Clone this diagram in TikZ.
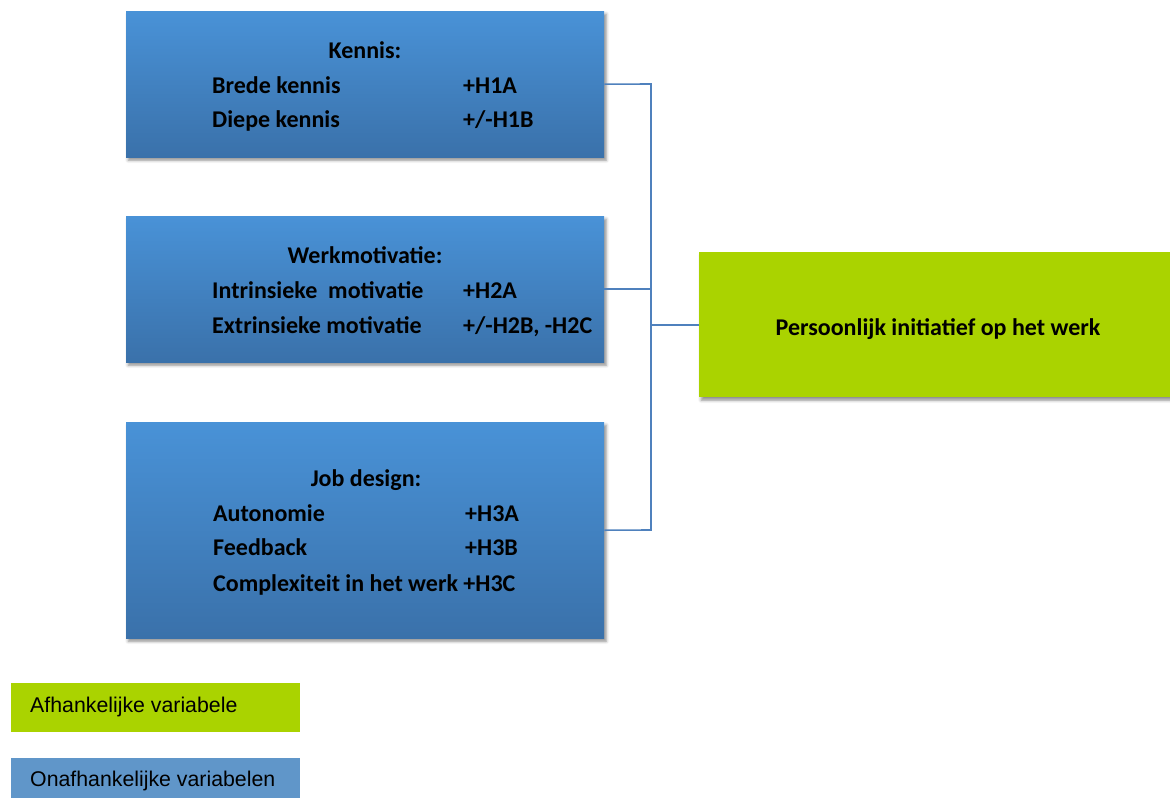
\documentclass[tikz,border=0pt]{standalone}
\usepackage{fontspec}
\setmainfont{Carlito}
\newfontfamily\arialfont{Liberation Sans}
\usetikzlibrary{shadows.blur}
\definecolor{blueTop}{RGB}{73,146,215}
\definecolor{blueBot}{RGB}{58,113,170}
\definecolor{limeG}{RGB}{170,211,0}
\definecolor{legBlue}{RGB}{96,150,201}
\definecolor{connC}{RGB}{79,129,189}
\tikzset{
  bluebox/.style={anchor=north west, inner sep=0pt, minimum width=478pt,
    top color=blueTop, bottom color=blueBot, draw=none,
    blur shadow={shadow xshift=2pt, shadow yshift=-3pt, shadow blur radius=3pt, shadow opacity=45}},
  greenbox/.style={anchor=north west, inner sep=0pt, minimum width=471pt, minimum height=145pt,
    fill=limeG, draw=none,
    blur shadow={shadow xshift=2pt, shadow yshift=-3pt, shadow blur radius=3pt, shadow opacity=45}},
  btxt/.style={anchor=base west, inner sep=0pt, font=\fontsize{24}{28}\selectfont\bfseries},
  ctxt/.style={anchor=base, inner sep=0pt, font=\fontsize{24}{28}\selectfont\bfseries},
  legbox/.style={anchor=north west, inner sep=0pt, minimum width=289pt},
  legtxt/.style={anchor=west, inner sep=0pt, font=\arialfont\fontsize{21.3}{25}\selectfont},
  conn/.style={draw=connC, line width=1.6pt}
}
\begin{document}
\begin{tikzpicture}[x=1pt,y=-1pt]
\useasboundingbox (0,0) rectangle (1170,798);
% boxes
\node[bluebox, minimum height=146pt] (k) at (126,11) {};
\node[bluebox, minimum height=146pt] (w) at (126,216) {};
\node[bluebox, minimum height=216pt] (j) at (126,422) {};
\node[greenbox] (p) at (699,252) {};
% connectors
\coordinate (bt) at (651,84);
\coordinate (bb) at (651,530);
\draw[conn] (k.east) -- (bt) -- (bb) -- (j.east);
\draw[conn] (w.east) -- (w.east -| bt);
\draw[conn] (p.west -| bt) -- (p.west);
% texts box 1
\node[ctxt] (k0) at (365,58) {Kennis:};
\node[btxt] (k1) at (212,93) {Brede kennis};
\node[btxt] (k1h) at (463,93) {+H1A};
\node[btxt] (k2) at (212,127) {Diepe kennis};
\node[btxt] (k2h) at (463,127) {+/-H1B};
% texts box 2
\node[ctxt] (w0) at (365,263) {Werkmotivatie:};
\node[btxt] (w1) at (212,298) {Intrinsieke\ \ motivatie};
\node[btxt] (w1h) at (463,298) {+H2A};
\node[btxt] (w2) at (212,333) {Extrinsieke motivatie};
\node[btxt] (w2h) at (463,333) {+/-H2B, -H2C};
% texts box 3
\node[ctxt] (j0) at (366,486) {Job design:};
\node[btxt] (j1) at (213,521) {Autonomie};
\node[btxt] (j1h) at (465,521) {+H3A};
\node[btxt] (j2) at (213,555) {Feedback};
\node[btxt] (j2h) at (465,555) {+H3B};
\node[btxt] (j3) at (213,591) {Complexiteit in het werk +H3C};
% green text
\node[ctxt] (p0) at (938,335) {Persoonlijk initiatief op het werk};
% legend
\node[legbox, minimum height=49pt, fill=limeG] (lg) at (11,683) {};
\node[legtxt] (lgt) at (30,707) {Afhankelijke variabele};
\node[legbox, minimum height=40pt, fill=legBlue] (lb) at (11,758) {};
\node[legtxt] (lbt) at (30,781) {Onafhankelijke variabelen};
\end{tikzpicture}
\end{document}
